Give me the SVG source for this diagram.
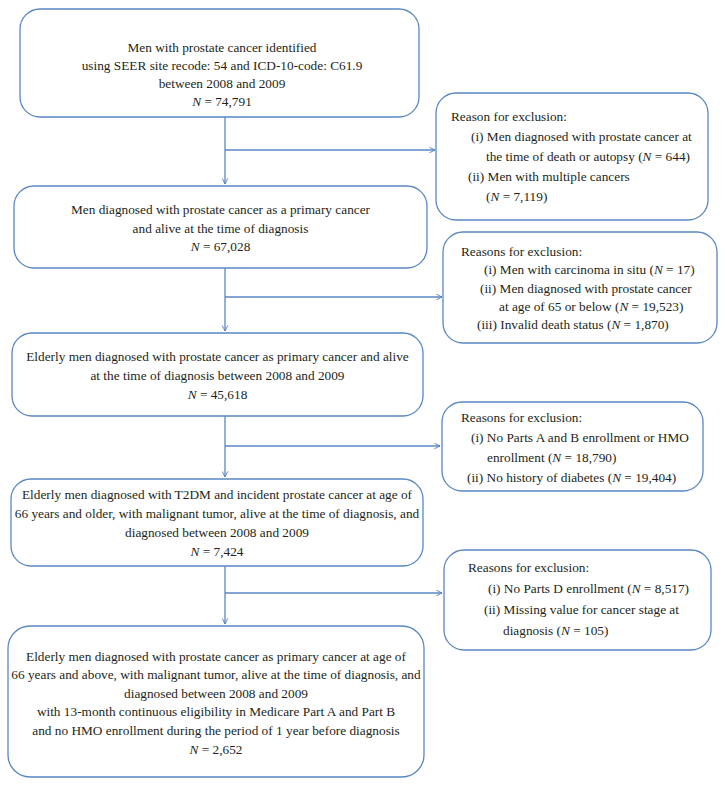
<svg xmlns="http://www.w3.org/2000/svg" width="725" height="787" viewBox="0 0 725 787">
<defs>
<marker id="arr" viewBox="0 0 10 10" refX="9" refY="5" markerWidth="7" markerHeight="7" markerUnits="userSpaceOnUse" orient="auto">
<path d="M1,1 L9,5 L1,9" fill="none" stroke="#4f7fbf" stroke-width="1.3"/>
</marker>
<style>
.box{fill:#fff;stroke:#5a87c4;stroke-width:1.3}
.t{font-family:"Liberation Serif","Times New Roman",serif;font-size:13.3px;fill:#231f20}
.c{text-anchor:middle}
.i{font-style:italic}
.ln{fill:none;stroke:#5a87c4;stroke-width:1.3}
</style>
</defs>
<rect width="725" height="787" fill="#fff"/>
<g id="connectors">
<path class="ln" d="M225,117 V184" marker-end="url(#arr)"/>
<path class="ln" d="M225,150 H435" marker-end="url(#arr)"/>
<path class="ln" d="M225,268 V331" marker-end="url(#arr)"/>
<path class="ln" d="M225,297 H442" marker-end="url(#arr)"/>
<path class="ln" d="M225,416 V477" marker-end="url(#arr)"/>
<path class="ln" d="M225,446 H440" marker-end="url(#arr)"/>
<path class="ln" d="M225,566 V624" marker-end="url(#arr)"/>
<path class="ln" d="M225,593 H442" marker-end="url(#arr)"/>
</g>
<g id="box1">
<rect class="box" x="20" y="9" width="399" height="108" rx="20"/>
<text class="t c" x="222" y="51.5">Men with prostate cancer identified</text>
<text class="t c" x="222" y="69.5">using SEER site recode: 54 and ICD-10-code: C61.9</text>
<text class="t c" x="222" y="87.5">between 2008 and 2009</text>
<text class="t c" x="222" y="105.5"><tspan class="i">N</tspan> = 74,791</text>
</g>
<g id="excl1">
<rect class="box" x="436" y="93" width="272" height="127" rx="20"/>
<text class="t" x="451" y="120.5">Reason for exclusion:</text>
<text class="t" x="471" y="140.5">(i) Men diagnosed with prostate cancer at</text>
<text class="t" x="486" y="161">the time of death or autopsy (<tspan class="i">N</tspan> = 644)</text>
<text class="t" x="468" y="180.5">(ii) Men with multiple cancers</text>
<text class="t" x="486" y="200.5">(<tspan class="i">N</tspan> = 7,119)</text>
</g>
<g id="box2">
<rect class="box" x="14" y="186" width="413" height="82" rx="20"/>
<text class="t c" x="220.5" y="213.5">Men diagnosed with prostate cancer as a primary cancer</text>
<text class="t c" x="220.5" y="232.5">and alive at the time of diagnosis</text>
<text class="t c" x="220.5" y="251"><tspan class="i">N</tspan> = 67,028</text>
</g>
<g id="excl2">
<rect class="box" x="443" y="232" width="274" height="111" rx="20"/>
<text class="t" x="461" y="255.5">Reasons for exclusion:</text>
<text class="t" x="484" y="273.5">(i) Men with carcinoma in situ (<tspan class="i">N</tspan> = 17)</text>
<text class="t" x="480" y="292.5">(ii) Men diagnosed with prostate cancer</text>
<text class="t" x="499" y="310.5">at age of 65 or below (<tspan class="i">N</tspan> = 19,523)</text>
<text class="t" x="477" y="328.5">(iii) Invalid death status (<tspan class="i">N</tspan> = 1,870)</text>
</g>
<g id="box3">
<rect class="box" x="12" y="333" width="411" height="83" rx="20"/>
<text class="t c" x="217.5" y="360.5">Elderly men diagnosed with prostate cancer as primary cancer and alive</text>
<text class="t c" x="217.5" y="379.5">at the time of diagnosis between 2008 and 2009</text>
<text class="t c" x="217.5" y="398.5"><tspan class="i">N</tspan> = 45,618</text>
</g>
<g id="excl3">
<rect class="box" x="442" y="402" width="261" height="89" rx="20"/>
<text class="t" x="461" y="421.5">Reasons for exclusion:</text>
<text class="t" x="471" y="442">(i) No Parts A and B enrollment or HMO</text>
<text class="t" x="487" y="462">enrollment (<tspan class="i">N</tspan> = 18,790)</text>
<text class="t" x="467" y="482">(ii) No history of diabetes (<tspan class="i">N</tspan> = 19,404)</text>
</g>
<g id="box4">
<rect class="box" x="11" y="479" width="412" height="87" rx="20"/>
<text class="t c" x="217" y="498.5">Elderly men diagnosed with T2DM and incident prostate cancer at age of</text>
<text class="t c" x="217" y="517.5">66 years and older, with malignant tumor, alive at the time of diagnosis, and</text>
<text class="t c" x="217" y="536.5">diagnosed between 2008 and 2009</text>
<text class="t c" x="217" y="555.5"><tspan class="i">N</tspan> = 7,424</text>
</g>
<g id="excl4">
<rect class="box" x="444" y="550" width="267" height="100" rx="20"/>
<text class="t" x="468" y="571.5">Reasons for exclusion:</text>
<text class="t" x="488" y="592.5">(i) No Parts D enrollment (<tspan class="i">N</tspan> = 8,517)</text>
<text class="t" x="484" y="613.5">(ii) Missing value for cancer stage at</text>
<text class="t" x="503" y="634.5">diagnosis (<tspan class="i">N</tspan> = 105)</text>
</g>
<g id="box5">
<rect class="box" x="8" y="626" width="416" height="151" rx="22"/>
<text class="t c" x="216" y="660.5">Elderly men diagnosed with prostate cancer as primary cancer at age of</text>
<text class="t c" x="216" y="679.1">66 years and above, with malignant tumor, alive at the time of diagnosis, and</text>
<text class="t c" x="216" y="697.7">diagnosed between 2008 and 2009</text>
<text class="t c" x="216" y="716.3">with 13-month continuous eligibility in Medicare Part A and Part B</text>
<text class="t c" x="216" y="734.9">and no HMO enrollment during the period of 1 year before diagnosis</text>
<text class="t c" x="216" y="753.5"><tspan class="i">N</tspan> = 2,652</text>
</g>
</svg>
